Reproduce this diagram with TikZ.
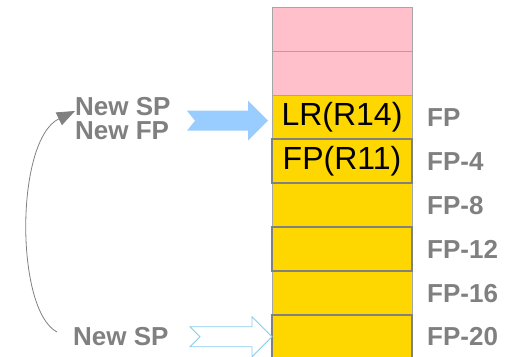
\documentclass[tikz,border=0pt]{standalone}
\usepackage{fontspec}
\setmainfont{Liberation Sans}
\usetikzlibrary{arrows.meta}
\definecolor{cellpink}{HTML}{FFBFCB}
\definecolor{cellgold}{HTML}{FFD700}
\definecolor{labgray}{HTML}{808080}
\definecolor{thingray}{HTML}{A6A6A6}
\definecolor{arrblue}{HTML}{99CCFF}
\definecolor{outblue}{HTML}{87CEEB}
\begin{document}
\begin{tikzpicture}[x=1pt,y=-1pt,
 cell/.style={anchor=north west, minimum width=140pt, minimum height=44pt, inner sep=0pt, outer sep=0pt},
 thincell/.style={cell, draw=thingray, line width=0.8pt},
 thickcell/.style={cell, draw=labgray, line width=1.8pt},
 lab/.style={font=\fontsize{26}{23.5}\selectfont\bfseries, text=labgray, anchor=west, inner sep=0pt},
 celltext/.style={font=\fontsize{32}{34}\selectfont, text=black, inner sep=0pt},
]
\useasboundingbox (0,0) rectangle (508,356);
\clip (0,0) rectangle (508,356);

% thin cells
\node[thincell, fill=cellpink] (c1) at (272,7) {};
\node[thincell, fill=cellpink] (c2) at (272,51) {};
\node[thincell, fill=cellgold] (c3) at (272,95) {};
\node[thincell, fill=cellgold] (c5) at (272,183) {};
\node[thincell, fill=cellgold] (c7) at (272,271) {};
% thick cells
\node[thickcell, fill=cellgold] (c4) at (272,139) {};
\node[thickcell, fill=cellgold] (c6) at (272,227) {};
\node[thickcell, fill=cellgold] (c8) at (272,315) {};

\node[celltext] (t3) at (c3.center) {LR(R14)};
\node[celltext] (t4) at (c4.center) {FP(R11)};

% offset labels
\node[lab] (l3) at (427,117.5) {FP};
\node[lab] (l4) at (427,161.5) {FP-4};
\node[lab] (l5) at (427,205.5) {FP-8};
\node[lab] (l6) at (427,249.5) {FP-12};
\node[lab] (l7) at (427,293.5) {FP-16};
\node[lab] (l8) at (427,337) {FP-20};

% left texts
\node[lab, align=left] (ntop) at (75,118.5) {New SP\\New FP};
\node[lab] (nbot) at (73,337) {New SP};

% filled blue block arrow
\fill[arrblue] (187,110.7) -- (248,110.7) -- (248,100.7) -- (268,120.7) -- (248,140.7) -- (248,130.7) -- (187,130.7) -- (195,120.7) -- cycle;

% outlined block arrow
\draw[outblue, fill=white, line width=0.8pt] (190,326.7) -- (252,326.7) -- (252,316.7) -- (272,336.7) -- (252,356.7) -- (252,346.7) -- (190,346.7) -- (200,336.7) -- cycle;

% curved connector
\coordinate (cs) at (57,332);
\coordinate (ce) at (75,111);
\draw[labgray, line width=0.8pt, -{Triangle[length=18pt,width=14pt]}] (cs) .. controls (15,310) and (15,140) .. (ce);
\end{tikzpicture}
\end{document}
